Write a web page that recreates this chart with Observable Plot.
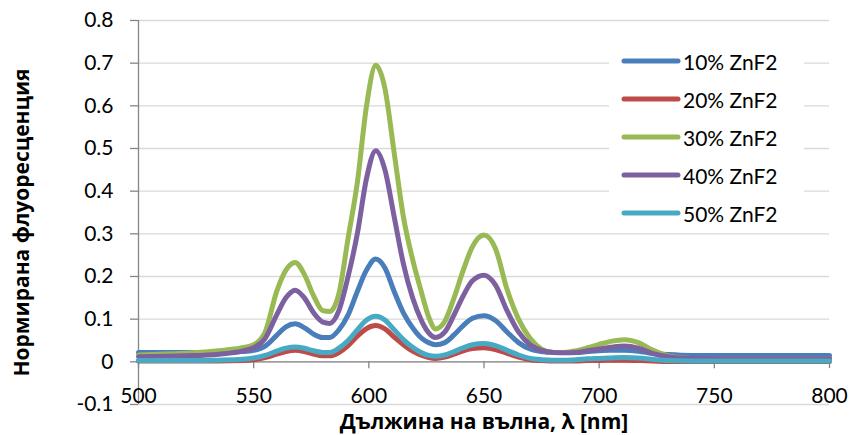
<!DOCTYPE html>
<html>
<head>
<meta charset="utf-8">
<script src="https://cdn.jsdelivr.net/npm/d3@7"></script>
<script src="https://cdn.jsdelivr.net/npm/@observablehq/plot@0.6"></script>
<style>
  html, body { margin: 0; padding: 0; background: #fff; }
  #chart { position: relative; width: 852px; height: 435px; }
  #legend { position: absolute; left: 609px; top: 42px; width: 195px; height: 191px; background: #fff; }
  .row { position: absolute; left: 0; height: 38px; width: 195px; }
  .row svg { position: absolute; left: 12px; top: 0; }
  .row span { position: absolute; left: 74px; top: 50%; transform: translateY(-50%); font: 21px Lato, "Open Sans", sans-serif; color: #000; white-space: nowrap; }
</style>
</head>
<body>
<div id="chart"></div>
<script>
// Emission spectra of the glasses, normalised fluorescence vs wavelength (nm)
const wavelength = [500, 520, 535, 545, 550, 555, 560, 564, 568, 572, 576, 580, 583, 587, 591, 595, 599, 603, 607, 611, 615, 619, 623, 626, 629, 633, 637, 641, 645, 650, 655, 660, 665, 670, 675, 680, 685, 690, 695, 700, 705, 711, 717, 723, 730, 740, 760, 780, 800];

const zn10 = [0.022, 0.022, 0.022, 0.024, 0.027, 0.037, 0.062, 0.082, 0.089, 0.080, 0.065, 0.057, 0.057, 0.075, 0.110, 0.165, 0.215, 0.241, 0.220, 0.165, 0.115, 0.080, 0.055, 0.045, 0.040, 0.045, 0.063, 0.085, 0.102, 0.108, 0.097, 0.070, 0.045, 0.030, 0.024, 0.022, 0.022, 0.022, 0.024, 0.026, 0.027, 0.027, 0.025, 0.020, 0.017, 0.015, 0.015, 0.015, 0.015];
const zn20 = [0.002, 0.002, 0.002, 0.003, 0.005, 0.010, 0.018, 0.024, 0.027, 0.024, 0.018, 0.014, 0.014, 0.022, 0.038, 0.060, 0.078, 0.085, 0.077, 0.058, 0.040, 0.025, 0.015, 0.010, 0.008, 0.011, 0.018, 0.026, 0.031, 0.033, 0.029, 0.020, 0.011, 0.005, 0.003, 0.002, 0.002, 0.002, 0.003, 0.003, 0.004, 0.004, 0.003, 0.002, 0.001, 0.001, 0.001, 0.001, 0.001];
const zn30 = [0.016, 0.020, 0.026, 0.033, 0.040, 0.070, 0.165, 0.215, 0.233, 0.205, 0.155, 0.120, 0.118, 0.160, 0.290, 0.420, 0.600, 0.695, 0.640, 0.490, 0.340, 0.240, 0.160, 0.105, 0.077, 0.095, 0.150, 0.215, 0.270, 0.297, 0.265, 0.170, 0.100, 0.055, 0.030, 0.022, 0.022, 0.026, 0.033, 0.041, 0.048, 0.052, 0.045, 0.028, 0.014, 0.008, 0.007, 0.007, 0.007];
const zn40 = [0.012, 0.014, 0.018, 0.025, 0.033, 0.055, 0.110, 0.150, 0.168, 0.150, 0.115, 0.093, 0.090, 0.120, 0.200, 0.300, 0.430, 0.495, 0.450, 0.340, 0.230, 0.150, 0.095, 0.068, 0.057, 0.070, 0.110, 0.155, 0.190, 0.203, 0.180, 0.120, 0.070, 0.040, 0.027, 0.022, 0.021, 0.022, 0.026, 0.030, 0.034, 0.037, 0.032, 0.020, 0.012, 0.008, 0.007, 0.007, 0.007];
const zn50 = [0.003, 0.003, 0.004, 0.006, 0.009, 0.015, 0.025, 0.032, 0.035, 0.032, 0.026, 0.022, 0.022, 0.032, 0.050, 0.075, 0.098, 0.107, 0.098, 0.075, 0.052, 0.034, 0.021, 0.015, 0.013, 0.016, 0.024, 0.033, 0.040, 0.043, 0.038, 0.027, 0.016, 0.008, 0.005, 0.004, 0.004, 0.005, 0.007, 0.008, 0.009, 0.010, 0.009, 0.006, 0.003, 0.002, 0.002, 0.002, 0.002];

const seriesNames = ["10% ZnF2", "20% ZnF2", "30% ZnF2", "40% ZnF2", "50% ZnF2"];
const seriesColors = ["#4A7EBB", "#BE4B48", "#98B954", "#7D60A0", "#46AAC5"];
const xTicks = [500, 550, 600, 650, 700, 750, 800];
const yTicks = [-0.1, 0, 0.1, 0.2, 0.3, 0.4, 0.5, 0.6, 0.7, 0.8];
const xTitle = "Дължина на вълна, λ [nm]";
const yTitle = "Нормирана флуоресценция";

const seriesValues = [zn10, zn20, zn30, zn40, zn50];
const rows = seriesNames.flatMap((name, s) =>
  wavelength.map((w, i) => ({series: name, wavelength: w, value: seriesValues[s][i]}))
);

const axisGray = "#868686";
const font = "Lato, 'Open Sans', sans-serif";
const titleFont = "'Open Sans', 'Noto Sans', sans-serif";

const chart = Plot.plot({
  width: 852,
  height: 435,
  marginLeft: 138,
  marginRight: 23,
  marginTop: 20,
  marginBottom: 31,
  style: {fontFamily: font, fontSize: "21px", color: "#000", background: "#fff"},
  x: {domain: [500, 800]},
  y: {domain: [-0.1, 0.8]},
  color: {domain: seriesNames, range: seriesColors},
  marks: [
    Plot.gridY(yTicks, {stroke: "#d9d9d9", strokeOpacity: 1, strokeWidth: 1.3}),
    Plot.ruleX([500], {stroke: axisGray, strokeWidth: 1.3}),
    Plot.ruleY([0], {stroke: axisGray, strokeWidth: 1.3}),
    Plot.ruleX(xTicks, {y1: 0, y2: -0.016, stroke: axisGray, strokeWidth: 1.3}),
    Plot.axisY(yTicks, {
      tickSize: 8, tickPadding: 17, stroke: axisGray, strokeWidth: 1.3,
      tickFormat: d => d === 0 ? "0" : d.toFixed(1), fontSize: 21, label: null
    }),
    Plot.axisX(xTicks, {
      tickSize: 0, tickPadding: -16, tickFormat: d => String(d), fontSize: 21, label: null
    }),
    Plot.line(rows, {
      x: "wavelength", y: "value", stroke: "series", z: "series",
      strokeWidth: 5, curve: "monotone-x", strokeLinejoin: "round", strokeLinecap: "round"
    }),
    Plot.text([xTitle], {
      frameAnchor: "bottom", dy: 18, textAnchor: "middle", lineAnchor: "middle",
      fontWeight: "bold", fontSize: 21, fontFamily: titleFont
    }),
    Plot.text([yTitle], {
      frameAnchor: "left", dx: -116, dy: 10, rotate: -90, textAnchor: "middle", lineAnchor: "middle",
      fontWeight: "bold", fontSize: 21, fontFamily: titleFont
    })
  ]
});

const host = document.getElementById("chart");
host.appendChild(chart);

// Legend box drawn over the grid, upper right
const legend = document.createElement("div");
legend.id = "legend";
seriesNames.forEach((name, i) => {
  const row = document.createElement("div");
  row.className = "row";
  row.style.top = (i * 38) + "px";
  row.innerHTML = `<svg width="60" height="38"><line x1="3" x2="57" y1="19" y2="19" stroke="${seriesColors[i]}" stroke-width="5" stroke-linecap="round"/></svg><span>${name}</span>`;
  legend.appendChild(row);
});
host.appendChild(legend);
</script>
</body>
</html>
